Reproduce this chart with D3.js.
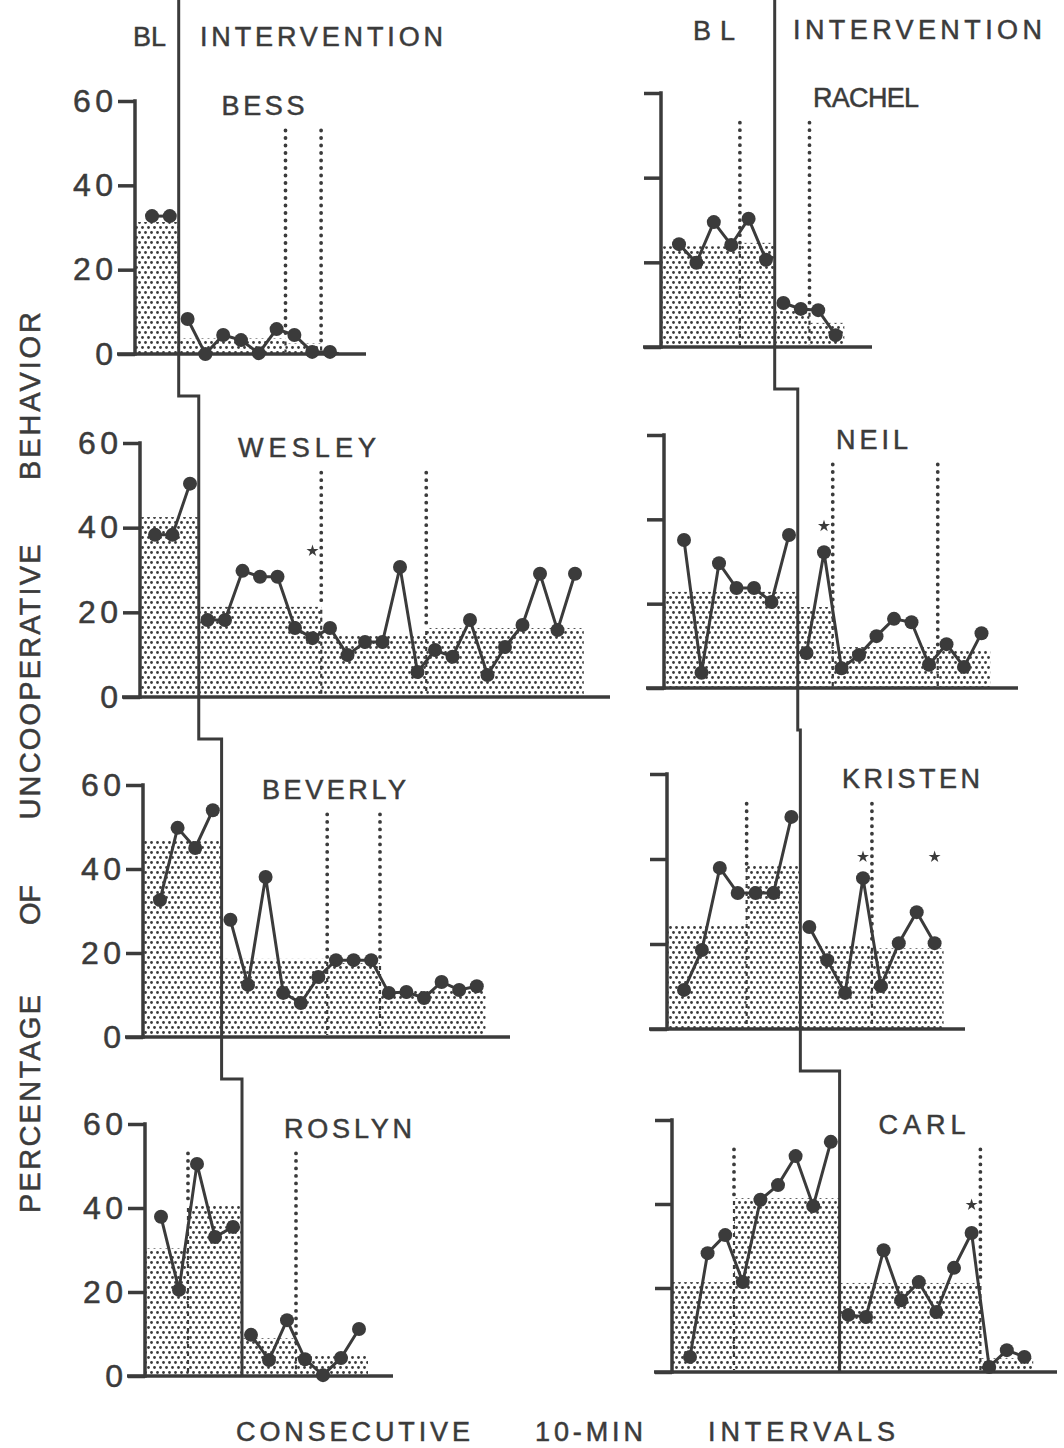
<!DOCTYPE html>
<html>
<head>
<meta charset="utf-8">
<script src="https://cdn.jsdelivr.net/npm/d3@7"></script>
<style>body{margin:0;background:#fff}</style>
</head>
<body>
<script>
// ---- data ----
const names = ["BESS", "RACHEL", "WESLEY", "NEIL", "BEVERLY", "KRISTEN", "ROSLYN", "CARL"];
const baselineSessions = [2, 6, 3, 7, 4, 7, 5, 9];
const values = [
  [32.7, 32.7, 8.3, 0, 4.5, 3.3, 0.2, 5.9, 4.5, 0.5, 0.5],
  [24.3, 19.9, 29.5, 24.1, 30.3, 20.6, 10.4, 9.0, 8.7, 2.8],
  [38.3, 38.3, 50.4, 18.2, 18.2, 29.8, 28.4, 28.4, 16.3, 13.9, 16.3, 9.9, 13.0, 13.0, 30.7, 5.9, 11.1, 9.5, 18.2, 5.2, 11.8, 17.0, 29.1, 15.8, 29.1],
  [35.1, 3.6, 29.6, 23.7, 23.7, 20.4, 36.3, 8.3, 32.2, 4.7, 7.8, 12.3, 16.4, 15.6, 5.5, 10.4, 5.0, 13.0],
  [32.6, 49.8, 45, 54, 27.9, 12.4, 38.1, 10.5, 8.1, 14.3, 18.3, 18.3, 18.3, 10.5, 10.7, 9.3, 13.1, 11.2, 12.1],
  [9.2, 18.6, 37.9, 32, 32, 32, 49.9, 24, 16.2, 8.5, 35.5, 10.1, 20.2, 27.5, 20.2],
  [37.9, 20.5, 50.5, 33.1, 35.5, 9.8, 3.8, 13.3, 4, 0.2, 4.3, 11.2],
  [3.6, 28.3, 32.6, 21.4, 41, 44.5, 51.4, 39.5, 54.8, 13.6, 13.1, 29, 17.1, 21.4, 14.3, 24.8, 33.1, 1.2, 5.2, 3.6]
];
// dotted condition-change lines (in session units)
const conditionChanges = [[8.5, 10.5], [4.5, 8.5], [10.5, 16.5], [9.5, 15.5], [10.5, 13.5], [4.5, 11.5], [2.5, 8.5], [3.5, 17.5]];
// shaded level for each condition, left to right
const phaseMeans = [
  [31.3, 3.7, 2.5, 0.5],
  [23.8, 24.6, 8.8, 5.7],
  [42.5, 21.3, 14.7, 16.3],
  [22.8, 19.2, 9.7, 9],
  [46.9, 18.6, 17.6, 11.2],
  [24.5, 38.6, 19.8, 19],
  [30.4, 40.7, 9, 5],
  [21.4, 41.4, 21.2, 3.3]
];
const starSessions = [[], [], [10], [9], [], [11, 15], [], [17]];
const starValues = [[], [], [34.5], [38.4], [], [40.5, 40.5], [], [39.8]];
const yTicks = [0, 20, 40, 60];

// ---- layout of each panel on the page ----
const layout = [
  {ax: 135, x1: 152, dx: 17.8, y0: 354, y60: 101, xEnd: 366, lx: 263, lw: 83, left: true},
  {ax: 661, x1: 679, dx: 17.4, y0: 347, y60: 93, xEnd: 872, lx: 866, lw: 106, left: false},
  {ax: 140, x1: 155, dx: 17.5, y0: 697, y60: 443, xEnd: 610, lx: 307, lw: 138, left: true},
  {ax: 664, x1: 684, dx: 17.5, y0: 688, y60: 435, xEnd: 1018, lx: 872, lw: 72, left: false},
  {ax: 143, x1: 160, dx: 17.6, y0: 1037, y60: 785, xEnd: 510, lx: 334, lw: 144, left: true},
  {ax: 667, x1: 684, dx: 17.9, y0: 1029, y60: 774, xEnd: 965, lx: 911, lw: 138, left: false},
  {ax: 145, x1: 161, dx: 18, y0: 1376, y60: 1124, xEnd: 393, lx: 348, lw: 128, left: true},
  {ax: 672, x1: 690, dx: 17.6, y0: 1372, y60: 1120, xEnd: 1057, lx: 922, lw: 87, left: false}
];

const ink = "#3b3b3b";
const font = "'Liberation Sans', Arial, Helvetica, sans-serif";

const svg = d3.select("body").append("svg")
  .attr("width", 1064)
  .attr("height", 1448)
  .style("display", "block")
  .attr("font-family", font);

const pat = svg.append("defs").append("pattern")
  .attr("id", "dots")
  .attr("patternUnits", "userSpaceOnUse")
  .attr("width", 6)
  .attr("height", 10);
pat.append("rect").attr("width", 6).attr("height", 10).attr("fill", "#fff");
pat.selectAll("circle")
  .data([[1.5, 2.5], [4.5, 7.5]])
  .join("circle")
  .attr("cx", (d) => d[0])
  .attr("cy", (d) => d[1])
  .attr("r", 1.4)
  .attr("fill", ink);

const boundaryX = [];

names.forEach((name, i) => {
  const L = layout[i];
  const vals = values[i];
  const n = vals.length;
  const nb = baselineSessions[i];
  const x = d3.scaleLinear().domain([1, n]).range([L.x1, L.x1 + (n - 1) * L.dx]);
  const y = d3.scaleLinear().domain([0, 60]).range([L.y0, L.y60]);
  boundaryX[i] = x(nb + 0.5);

  const g = svg.append("g");

  // shaded condition means
  const bounds = [0.5]
    .concat(conditionChanges[i].filter((c) => c < nb + 0.5))
    .concat([nb + 0.5])
    .concat(conditionChanges[i].filter((c) => c > nb + 0.5))
    .concat([n + 0.5]);
  const segs = d3.pairs(bounds).map((p, k) => ({a: p[0], b: p[1], v: phaseMeans[i][k]}));
  const sx = (d) => (d.a === 0.5 ? L.ax : x(d.a));
  g.selectAll("rect.mean")
    .data(segs)
    .join("rect")
    .attr("class", "mean")
    .attr("x", sx)
    .attr("width", (d) => x(d.b) - sx(d))
    .attr("y", (d) => y(d.v))
    .attr("height", (d) => y(0) - y(d.v))
    .attr("fill", "url(#dots)");

  // dotted condition lines, dashed where they cross the shading
  const changes = conditionChanges[i].map((c) => {
    const k = bounds.indexOf(c);
    return {c: c, top: Math.max(phaseMeans[i][k - 1], phaseMeans[i][k])};
  });
  g.selectAll("line.dot")
    .data(changes)
    .join("line")
    .attr("class", "dot")
    .attr("x1", (d) => x(d.c))
    .attr("x2", (d) => x(d.c))
    .attr("y1", y(53))
    .attr("y2", (d) => y(d.top))
    .attr("stroke", ink)
    .attr("stroke-width", 3.8)
    .attr("stroke-linecap", "round")
    .attr("stroke-dasharray", "0,7.5");
  g.selectAll("line.dash")
    .data(changes)
    .join("line")
    .attr("class", "dash")
    .attr("x1", (d) => x(d.c))
    .attr("x2", (d) => x(d.c))
    .attr("y1", (d) => y(d.top) + 3)
    .attr("y2", y(0) - 2)
    .attr("stroke", ink)
    .attr("stroke-width", 2.2)
    .attr("stroke-dasharray", "4,4");

  // axes
  const yAxis = g.append("g")
    .attr("transform", `translate(${L.ax},0)`)
    .call(d3.axisLeft(y).tickValues(yTicks).tickSize(17).tickPadding(5)
      .tickFormat(L.left ? d3.format("d") : () => ""))
    .call((a) => a.select(".domain").remove());
  yAxis.attr("font-family", font).attr("font-size", 32);
  yAxis.selectAll("line").attr("stroke", ink).attr("stroke-width", 3.5);
  yAxis.selectAll("text")
    .attr("fill", ink)
    .attr("stroke", ink)
    .attr("stroke-width", 0.5)
    .each(function (d) {
      if (String(d).length === 2) d3.select(this).attr("textLength", 40).attr("lengthAdjust", "spacing");
    });

  g.append("line")
    .attr("x1", L.ax).attr("x2", L.ax)
    .attr("y1", y(60)).attr("y2", y(0))
    .attr("stroke", ink).attr("stroke-width", 3.5).attr("stroke-linecap", "square");
  g.append("line")
    .attr("x1", L.ax - 18).attr("x2", L.xEnd)
    .attr("y1", y(0)).attr("y2", y(0))
    .attr("stroke", ink).attr("stroke-width", 3.5);

  // data paths: baseline and intervention drawn apart
  const pts = vals.map((v, j) => ({s: j + 1, v: v}));
  const line = d3.line().x((d) => x(d.s)).y((d) => y(d.v));
  g.selectAll("path.series")
    .data([pts.slice(0, nb), pts.slice(nb)])
    .join("path")
    .attr("class", "series")
    .attr("d", line)
    .attr("fill", "none")
    .attr("stroke", ink)
    .attr("stroke-width", 3);
  g.selectAll("circle.pt")
    .data(pts)
    .join("circle")
    .attr("class", "pt")
    .attr("cx", (d) => x(d.s))
    .attr("cy", (d) => y(d.v))
    .attr("r", 7)
    .attr("fill", ink);

  // stars
  g.selectAll("path.star")
    .data(starSessions[i].map((s, k) => ({s: s, v: starValues[i][k]})))
    .join("path")
    .attr("class", "star")
    .attr("transform", (d) => `translate(${x(d.s)},${y(d.v)})`)
    .attr("d", d3.symbol(d3.symbolStar, 45))
    .attr("fill", ink);

  // participant name
  g.append("text")
    .attr("x", L.lx)
    .attr("y", L.y60 + 14)
    .attr("text-anchor", "middle")
    .attr("font-size", 27)
    .attr("textLength", L.lw)
    .attr("lengthAdjust", "spacing")
    .attr("fill", ink)
    .attr("stroke", ink)
    .attr("stroke-width", 0.5)
    .text(name);
});

// staircase phase-change lines
function stair(ids) {
  const p = d3.path();
  ids.forEach((id, k) => {
    const bx = boundaryX[id];
    if (k === 0) p.moveTo(bx, 0);
    else p.lineTo(bx, layout[ids[k - 1]].y0 + 42);
    p.lineTo(bx, k === ids.length - 1 ? layout[id].y0 : layout[id].y0 + 42);
  });
  return p.toString();
}
svg.selectAll("path.stair")
  .data([[0, 2, 4, 6], [1, 3, 5, 7]])
  .join("path")
  .attr("class", "stair")
  .attr("d", stair)
  .attr("fill", "none")
  .attr("stroke", ink)
  .attr("stroke-width", 3);

// headers and titles
const labels = [
  {t: "BL", x: 133, y: 46, w: 33},
  {t: "INTERVENTION", x: 200, y: 46, w: 243},
  {t: "BL", x: 693, y: 40, w: 42},
  {t: "INTERVENTION", x: 793, y: 39, w: 249},
  {t: "CONSECUTIVE", x: 236, y: 1441, w: 234},
  {t: "10-MIN", x: 535, y: 1441, w: 108},
  {t: "INTERVALS", x: 708, y: 1441, w: 187}
];
svg.selectAll("text.lab")
  .data(labels)
  .join("text")
  .attr("class", "lab")
  .attr("x", (d) => d.x)
  .attr("y", (d) => d.y)
  .attr("font-size", 27)
  .attr("textLength", (d) => d.w)
  .attr("lengthAdjust", "spacing")
  .attr("fill", ink)
  .attr("stroke", ink)
  .attr("stroke-width", 0.5)
  .text((d) => d.t);

const yTitle = [
  {t: "PERCENTAGE", c: 1104, w: 218},
  {t: "OF", c: 905, w: 40},
  {t: "UNCOOPERATIVE", c: 682, w: 275},
  {t: "BEHAVIOR", c: 396, w: 168}
];
svg.selectAll("text.ytitle")
  .data(yTitle)
  .join("text")
  .attr("class", "ytitle")
  .attr("transform", (d) => `translate(40,${d.c}) rotate(-90)`)
  .attr("text-anchor", "middle")
  .attr("font-size", 29)
  .attr("textLength", (d) => d.w)
  .attr("lengthAdjust", "spacing")
  .attr("fill", ink)
  .attr("stroke", ink)
  .attr("stroke-width", 0.5)
  .text((d) => d.t);
</script>
</body>
</html>
